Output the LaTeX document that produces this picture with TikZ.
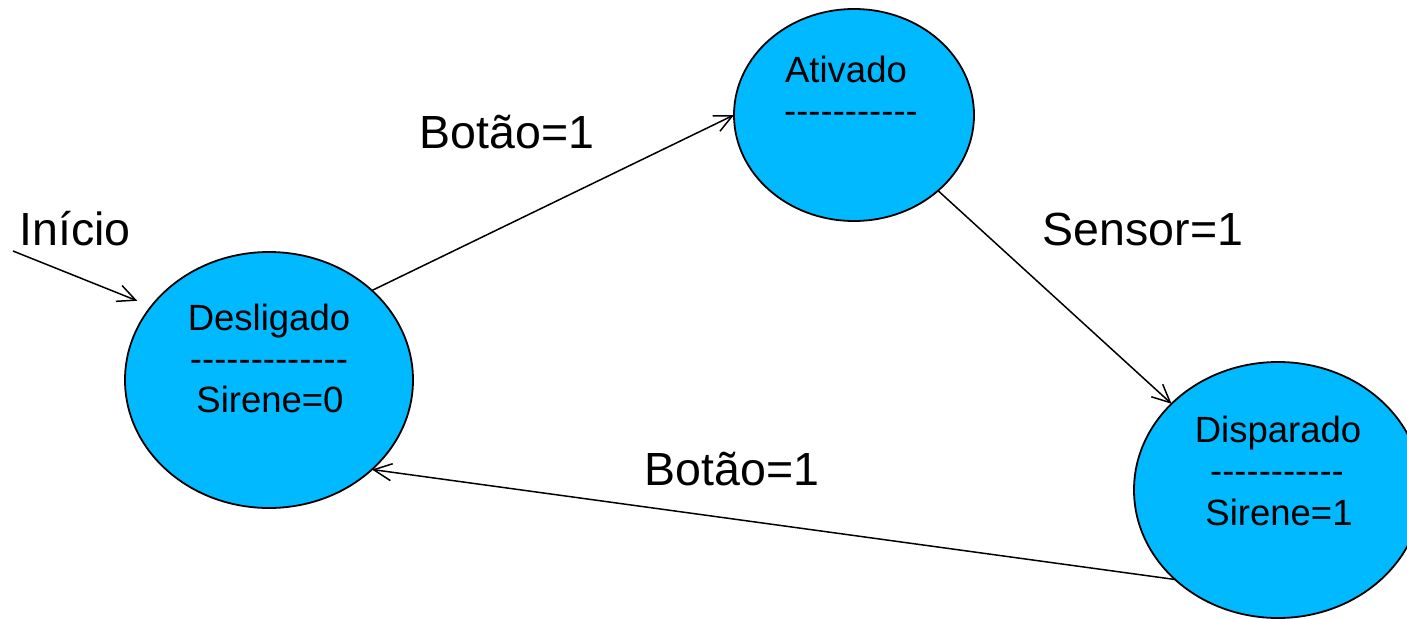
\documentclass[tikz,border=0pt]{standalone}
\usepackage{fontspec}
\newfontfamily\arial{Liberation Sans}
\usetikzlibrary{arrows.meta,shapes.geometric}
\definecolor{stateblue}{RGB}{0,185,255}
\newcommand\hy{-\kern0pt}
\begin{document}
\begin{tikzpicture}[x=1pt,y=-1pt,
  state/.style={ellipse,draw=black,line width=1.8pt,fill=stateblue,inner sep=0pt,outer sep=0pt},
  bigstate/.style={state,minimum width=288pt,minimum height=256pt},
  st/.style={font=\arial\fontsize{36.5}{40}\selectfont,anchor=base,inner sep=0pt},
  lbl/.style={font=\arial\fontsize{46.5}{50}\selectfont,anchor=base,inner sep=0pt},
  conn/.style={line width=1.5pt,-{Straight Barb[length=18pt,width=17pt]}}]
\useasboundingbox (0,0) rectangle (1407,618);
% states
\node[bigstate] (desl) at (269,380) {};
\node[state,minimum width=240pt,minimum height=212pt] (ativ) at (854,115) {};
\node[bigstate] (disp) at (1278,490) {};
% state texts
\node[st] (desl1) at (269,330) {Desligado};
\node[st] (desl2) at (269,371) {\hy\hy\hy\hy\hy\hy\hy\hy\hy\hy\hy\hy\hy};
\node[st] (desl3) at (270,412) {Sirene=0};
\node[st] (ativ1) at (846,82) {Ativado};
\node[st] (ativ2) at (851,123) {\hy\hy\hy\hy\hy\hy\hy\hy\hy\hy\hy};
\node[st] (disp1) at (1278,442) {Disparado};
\node[st] (disp2) at (1277,483) {\hy\hy\hy\hy\hy\hy\hy\hy\hy\hy\hy};
\node[st] (disp3) at (1279,525) {Sirene=1};
% labels
\node[lbl] (inicio) at (75,245) {Início};
\node[lbl] (bot1) at (507,148) {Botão=1};
\node[lbl] (sens) at (1143,245) {Sensor=1};
\node[lbl] (bot2) at (732,485) {Botão=1};
% connectors
\coordinate (inistart) at (13,251);
\draw[conn,shorten >=15pt] (inistart) -- (desl.148);
\draw[conn] (desl.41.8) -- (ativ.180);
\draw[conn] (ativ.-42.5) -- (disp.141.3);
\draw[conn] (disp.221.2) -- (desl.-41);
\end{tikzpicture}
\end{document}
